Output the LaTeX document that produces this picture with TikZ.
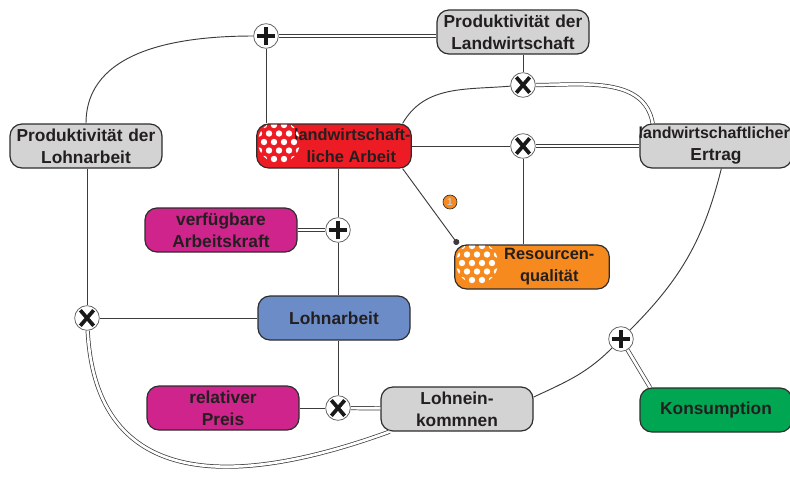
\documentclass[tikz,border=0pt]{standalone}
\usepackage{fontspec}
\setmainfont{Liberation Sans}
\usetikzlibrary{arrows.meta}
\usetikzlibrary{positioning}

\definecolor{boxgray}{RGB}{211,211,211}
\definecolor{arbeitred}{RGB}{237,28,36}
\definecolor{pinkbox}{RGB}{207,36,139}
\definecolor{resorange}{RGB}{246,138,31}
\definecolor{lohnblue}{RGB}{108,140,200}
\definecolor{konsumgreen}{RGB}{0,166,81}
\definecolor{edgegray}{RGB}{45,45,45}
\definecolor{linegray}{RGB}{60,60,60}
\definecolor{textgray}{RGB}{35,31,32}

\newcommand{\boxfont}{\fontsize{13}{16.5}\selectfont\bfseries\hyphenpenalty=10000\exhyphenpenalty=10000}
\newcommand{\iconcell}[1]{\hspace*{26pt}\parbox{86pt}{\centering\fontsize{12.3}{16.5}\selectfont #1}}
% white dot ball in the upper left of a box
\newcommand{\dotball}[3]{%
  \begin{scope}
    \clip[rounded corners=8pt] ([shift={(1pt,-1pt)}]#1.north west) rectangle ([shift={(-1pt,1pt)}]#1.south east);
    \clip (#2,#3) circle (21);
    \foreach \r in {-3,...,3}
      \foreach \c in {-3,...,3}
        \fill[white] ({#2+\c*10+5*mod(\r+3,2)},{#3+\r*8.5}) circle (3.2);
  \end{scope}}

\begin{document}
\begin{tikzpicture}[x=0.75pt, y=-0.75pt,
    box/.style={rectangle, rounded corners=9pt, draw=edgegray, line width=0.9pt,
      minimum height=33pt, inner sep=2pt, font=\boxfont, text=textgray},
    textbox/.style={box, text width=110pt, align=center},
    iconbox/.style={box, minimum width=114pt},
    junc/.style={circle, draw=black!60, line width=0.6pt, fill=white,
      minimum size=18.5pt, inner sep=0pt},
    xjunc/.style={junc, path picture={
      \draw[line width=2.8pt, black!90]
        ([shift={(-5pt,-5.8pt)}]path picture bounding box.center) -- ([shift={(5pt,5.8pt)}]path picture bounding box.center)
        ([shift={(-5pt,5.8pt)}]path picture bounding box.center) -- ([shift={(5pt,-5.8pt)}]path picture bounding box.center);}},
    pjunc/.style={junc, path picture={
      \draw[line width=2.6pt, black!90]
        ([xshift=-7pt]path picture bounding box.center) -- ([xshift=7pt]path picture bounding box.center)
        ([yshift=-7pt]path picture bounding box.center) -- ([yshift=7pt]path picture bounding box.center);}},
    marker/.style={circle, fill=resorange, draw=edgegray, line width=0.5pt, minimum size=10.5pt,
      inner sep=0pt, font=\fontsize{7.5}{7.5}\selectfont\bfseries, text=white!80!black},
    link/.style={draw=linegray, line width=0.7pt},
    dlink/.style={draw=linegray, line width=0.55pt, double=white, double distance=2pt}]
    \useasboundingbox (0,0) rectangle (790,480);

    % factors
    \node[textbox, fill=boxgray] (landprod) at (513,32) {Produktivität der\\Landwirtschaft};
    \node[textbox, fill=boxgray] (lohnprod) at (86,146) {Produktivität der\\Lohnarbeit};
    \node[iconbox, fill=arbeitred] (arbeit) at (334,146) {\iconcell{landwirtschaft-\\liche Arbeit}};
    \node[textbox, fill=boxgray] (ertrag) at (716,146) {\mbox{\fontsize{12}{16.5}\selectfont\kern-3pt landwirtschaftlicher}\\Ertrag};
    \node[textbox, fill=pinkbox] (verfuegbar) at (221,230) {verfügbare\\Arbeitskraft};
    \node[iconbox, fill=resorange] (ressource) at (532,267) {\iconcell{Resourcen-\\qualität}};
    \node[textbox, fill=lohnblue, below of=arbeit, node distance=129pt] (lohnarbeit) {Lohnarbeit};
    \node[textbox, fill=pinkbox] (preis) at (223,408) {relativer\\Preis};
    \node[textbox, fill=boxgray] (lohneink) at (457,409) {Lohnein-\\kommnen};
    \node[textbox, fill=konsumgreen] (konsum) at (716,410) {Konsumption};

    \dotball{arbeit}{279}{142}
    \dotball{ressource}{477}{263}

    % junctions
    \node[pjunc] (plus1) at (266,36) {};
    \node[xjunc] (x1) at (523,85) {};
    \node[xjunc] (x2) at (523,146) {};
    \node[pjunc] (plus2) at (338,230) {};
    \node[xjunc] (x3) at (87,318) {};
    \node[xjunc] (x4) at (338,408) {};
    \node[pjunc] (plus3) at (621,339) {};
    \node[marker] (warn) at (450,202) {1};

    % connectors
    \draw[link] (lohnprod.north) to[out=90, in=180] (plus1);
    \draw[dlink] (plus1.east) -- (plus1.east -| landprod.west);
    \draw[link] (plus1) -- (plus1 |- arbeit.north);
    \draw[link] (landprod.south -| x1) -- (x1);
    \draw[link] ([xshift=-7pt]arbeit.north east) to[out=60, in=185] (x1);
    \draw[dlink] (x1) to[out=0, in=100] ([xshift=10pt]ertrag.north west);
    \draw[link] (arbeit.east) -- (x2);
    \draw[dlink] (x2) -- (ertrag.west);
    \draw[link] (x2) -- (x2 |- ressource.north);
    \draw[link, -{Circle[length=4.5pt]}] ([xshift=-7pt]arbeit.south east) -- ([xshift=3pt]ressource.north west);
    \draw[link] (arbeit.south -| plus2) -- (plus2);
    \draw[link] (plus2) -- (plus2 |- lohnarbeit.north);
    \draw[dlink] (verfuegbar.east) -- (plus2);
    \draw[link] (lohnarbeit.west) -- (x3);
    \draw[link] (lohnprod.south -| x3) -- (x3);
    \draw[dlink] (x3) to[out=-87, in=200, looseness=1.3] ([xshift=7pt]lohneink.south west);
    \draw[link] (lohnarbeit.south -| x4) -- (x4);
    \draw[link] (preis) -- (x4);
    \draw[dlink] (x4) -- (lohneink);
    \draw[link] ([yshift=-8pt]lohneink.north east) to[out=25, in=225] (plus3);
    \draw[link] (plus3) to[out=45, in=256] ([xshift=4pt]ertrag.south);
    \draw[dlink] (plus3) -- ([xshift=8pt]konsum.north west);
\end{tikzpicture}
\end{document}
